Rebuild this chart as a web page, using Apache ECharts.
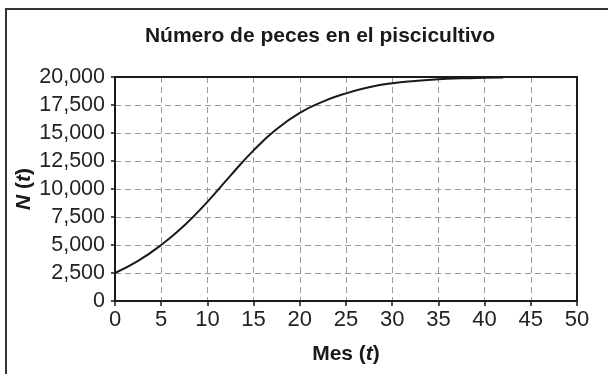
<!DOCTYPE html>
<html>
<head>
<meta charset="utf-8">
<script src="https://cdn.jsdelivr.net/npm/echarts@6/dist/echarts.min.js"></script>
<style>
  html, body { margin: 0; padding: 0; background: #fff; }
  #chart { width: 608px; height: 374px; }
</style>
</head>
<body>
<div id="chart"></div>
<script>
const titleText = 'Número de peces en el piscicultivo';
const months = [0, 2.5, 5, 7.5, 10, 12.5, 15, 17.5, 20, 22.5, 25, 27.5, 30, 32.5, 35, 37.5, 40, 42];
const fish = [2500, 3580, 5000, 6750, 8850, 11200, 13450, 15350, 16800, 17800, 18540, 19080, 19440, 19650, 19800, 19880, 19930, 19960];
const xTicks = { min: 0, max: 50, interval: 5 };
const yTicks = { min: 0, max: 20000, interval: 2500 };

const chart = echarts.init(document.getElementById('chart'), null, { renderer: 'canvas' });
const font = '"Liberation Sans", Arial, Helvetica, sans-serif';
const dark = '#1a1a1a';
const nameRich = {
  b: { fontFamily: font, fontWeight: 'bold', fontSize: 21, color: dark },
  i: { fontFamily: font, fontWeight: 'bold', fontStyle: 'italic', fontSize: 21, color: dark }
};
const split = { show: true, lineStyle: { color: '#9a9a9a', width: 1, type: [6, 4] } };

chart.setOption({
  backgroundColor: '#fff',
  animation: false,
  graphic: [
    { type: 'rect', shape: { x: 6, y: 9, width: 800, height: 600 }, style: { fill: 'none', stroke: '#333', lineWidth: 2 }, z: -1 },
    { type: 'text', x: 320, y: 36, style: { text: titleText, font: 'bold 21px ' + font, fill: dark, textAlign: 'center', textVerticalAlign: 'middle' } }
  ],
  grid: { left: 115, right: 31, top: 77, bottom: 73, outerBoundsMode: 'none', containLabel: false },
  xAxis: [{
    type: 'value', min: xTicks.min, max: xTicks.max, interval: xTicks.interval,
    name: '{b|Mes (}{i|t}{b|)}', nameLocation: 'middle', nameGap: 43, nameMoveOverlap: false,
    nameTextStyle: { rich: nameRich },
    axisLine: { show: true, onZero: false, lineStyle: { color: dark, width: 2 } },
    axisTick: { show: true, inside: false, length: 5, lineStyle: { color: dark, width: 1.5 } },
    axisLabel: { fontFamily: font, fontSize: 22, color: '#222', margin: 8 },
    splitLine: split
  }, {
    type: 'value', position: 'top', min: xTicks.min, max: xTicks.max, interval: xTicks.interval,
    axisLine: { show: true, onZero: false, lineStyle: { color: dark, width: 2 } },
    axisTick: { show: false }, axisLabel: { show: false }, splitLine: { show: false }
  }],
  yAxis: [{
    type: 'value', min: yTicks.min, max: yTicks.max, interval: yTicks.interval,
    name: '{i|N}{b| (}{i|t}{b|)}', nameLocation: 'middle', nameGap: 80, nameRotate: 90, nameMoveOverlap: false,
    nameTextStyle: { rich: nameRich },
    axisLine: { show: true, onZero: false, lineStyle: { color: dark, width: 2 } },
    axisTick: { show: true, inside: false, length: 4, lineStyle: { color: dark, width: 1.5 } },
    axisLabel: { fontFamily: font, fontSize: 21.5, color: '#222', margin: 10, formatter: v => v.toLocaleString('en-US') },
    splitLine: split
  }, {
    type: 'value', position: 'right', min: yTicks.min, max: yTicks.max, interval: yTicks.interval,
    axisLine: { show: true, onZero: false, lineStyle: { color: dark, width: 2 } },
    axisTick: { show: false }, axisLabel: { show: false }, splitLine: { show: false }
  }],
  series: [{
    type: 'line',
    data: months.map((m, i) => [m, fish[i]]),
    smooth: 0.5,
    showSymbol: false,
    lineStyle: { color: dark, width: 2 },
    z: 5
  }]
});
</script>
</body>
</html>
